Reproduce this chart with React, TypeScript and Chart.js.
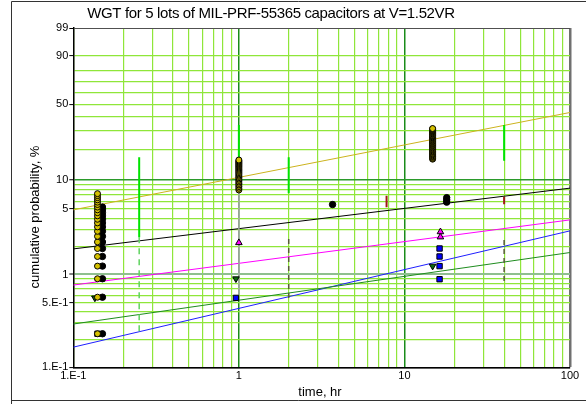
import React, { useEffect, useRef } from 'react';
import { Chart, registerables, LinearScale } from 'chart.js';

// ---------- Weibull probability scale ----------
const W = (p: number) => Math.log(-Math.log(1 - p / 100));

class WeibullScale extends LinearScale {
  static id = 'weibull';
  static defaults = {};
  getPixelForValue(value: number) {
    const a = W(this.min as number);
    const b = W(this.max as number);
    return this.getPixelForDecimal((W(value) - a) / (b - a));
  }
  getValueForPixel(pixel: number) {
    const a = W(this.min as number);
    const b = W(this.max as number);
    const w = a + this.getDecimalForPixel(pixel) * (b - a);
    return 100 * (1 - Math.exp(-Math.exp(w)));
  }
}
Chart.register(...registerables, WeibullScale);

// ---------- text ----------
const TITLE = 'WGT for 5 lots of MIL-PRF-55365 capacitors at V=1.52VR';
const X_TITLE = 'time, hr';
const Y_TITLE = 'cumulative probability, %';

// ---------- ticks ----------
const xTickValues = [0.1, 0.2, 0.3, 0.4, 0.5, 0.6, 0.7, 0.8, 0.9, 1, 2, 3, 4, 5, 6, 7, 8, 9, 10, 20, 30, 40, 50, 60, 70, 80, 90, 100];
const xLabeledValues = [0.1, 1, 10, 100];
const xLabelTexts = ['1.E-1', '1', '10', '100'];

const yTickValues = [0.1, 0.2, 0.3, 0.4, 0.5, 0.6, 0.7, 0.8, 0.9, 1, 2, 3, 4, 5, 6, 7, 8, 9, 10, 20, 30, 40, 50, 60, 70, 80, 90, 99];
const yLabeledValues = [0.1, 0.5, 1, 5, 10, 50, 90, 99];
const yLabelTexts = ['1.E-1', '5.E-1', '1', '5', '10', '50', '90', '99'];

// ---------- data (cumulative %, per time in hr) ----------
const yellowT1 = 0.14;
const yellowAtT1 = [0.23, 0.57, 0.90, 1.23, 1.56, 1.90, 2.23, 2.56, 2.90, 3.23, 3.56, 3.89, 4.23, 4.56, 4.89, 5.23, 5.56, 5.89, 6.23, 6.56, 6.89, 7.22];
const yellowT2 = 1;
const yellowAtT2 = [7.89, 8.22, 8.56, 8.89, 9.22, 9.55, 9.89, 10.22, 10.55, 10.89, 11.22, 11.55, 11.88, 12.22, 12.55, 12.88, 13.22, 13.55, 13.88, 14.21, 14.55, 14.88, 15.21, 15.55, 15.88];
const yellowT3 = 14.8;
const yellowAtT3 = [16.2, 16.5, 16.9, 17.2, 17.5, 17.9, 18.2, 18.5, 18.9, 19.2, 19.5, 19.9, 20.2, 20.5, 20.9, 21.2, 21.5, 21.9, 22.2, 22.5, 22.9, 23.2, 23.5, 23.9, 24.2, 24.5, 24.9, 25.2, 25.5, 25.9, 26.2, 26.5, 26.9, 27.2, 27.5, 27.9, 28.2, 28.5, 28.9, 29.2, 29.5, 29.9, 30.2, 30.5, 30.9, 31.2, 31.5];

const blackT1 = 0.15;
const blackAtT1 = [0.23, 0.57, 0.90, 1.23, 1.56, 1.90, 2.23, 2.56, 2.90, 3.23, 3.56, 3.89, 4.23, 4.56, 4.89, 5.23];
const blackT2 = 3.68;
const blackAtT2 = [5.56];
const blackT3 = 18;
const blackAtT3 = [5.89, 6.23, 6.56];

const magentaTimes = [1.0, 16.5, 16.5];
const magentaPct = [2.19, 2.52, 2.86];

const greenTimes = [0.135, 0.96, 14.8];
const greenPct = [0.56, 0.90, 1.23];

const blueTimes = [0.14, 0.96, 16.3, 16.3, 16.3, 16.3];
const bluePct = [0.23, 0.56, 0.89, 1.23, 1.56, 1.90];

// fitted lines, evaluated at the ends of the time axis
const fitTimes = [0.1, 100];
const fitYellow = [4.89, 43.1];
const fitBlack = [1.88, 8.24];
const fitMagenta = [0.77, 3.83];
const fitGreen = [0.293, 1.72];
const fitBlue = [0.165, 2.93];

// vertical bound markers
const boundGreenX = [0.25, 1, 2, 40];
const boundGreenTop = [16.9, 33.9, 16.9, 33.9];
const boundGreenBottom = [2.5, 12, 7.3, 15.6];
const boundLowX = [0.25, 2, 40];
const boundLowTop = [2.5, 2.4, 2.34];
const boundLowBottom = [0.22, 0.53, 0.84];
const boundGrayX = [1];
const boundGrayTop = [7.9];
const boundGrayBottom = [0.6];
const boundRedX = [7.8, 40];
const boundRedTop = [6.85, 6.72];
const boundRedBottom = [5.2, 5.59];

// ---------- helpers ----------
const at = (t: number, arr: number[]) => arr.map((p) => ({ x: t, y: p }));
const pair = (xs: number[], ys: number[]) => xs.map((x, i) => ({ x, y: ys[i] }));

const FONT = '"Liberation Sans", Arial, Helvetica, sans-serif';
const GRID = '#8fe63a';

function markerSet(data: any[], style: any) {
  return {
    type: 'scatter',
    data,
    showLine: false,
    pointBorderColor: '#000',
    pointBorderWidth: 1,
    pointHoverRadius: 0,
    ...style,
  };
}

function lineSet(xs: number[], ys: number[], color: string, width = 1, dash: number[] = []) {
  return {
    type: 'scatter',
    data: pair(xs, ys),
    showLine: true,
    borderColor: color,
    borderWidth: width,
    borderDash: dash,
    pointRadius: 0,
    pointHoverRadius: 0,
    fill: false,
  };
}

function boundSets(xs: number[], tops: number[], bottoms: number[], color: string, width: number, dash: number[] = []) {
  return xs.map((x, i) => lineSet([x, x], [tops[i], bottoms[i]], color, width, dash));
}

const decorPlugin = {
  id: 'decor',
  afterDraw(chart: any) {
    const ctx = chart.ctx as CanvasRenderingContext2D;
    ctx.save();
    // outer frame
    ctx.strokeStyle = '#333';
    ctx.lineWidth = 1;
    ctx.beginPath();
    ctx.moveTo(11.5, 404);
    ctx.lineTo(11.5, 1.5);
    ctx.lineTo(586, 1.5);
    ctx.moveTo(11.5, 400.5);
    ctx.lineTo(586, 400.5);
    ctx.stroke();
    // title
    ctx.fillStyle = '#000';
    ctx.textAlign = 'center';
    ctx.textBaseline = 'alphabetic';
    ctx.font = `15px ${FONT}`;
    (ctx as any).letterSpacing = '-0.35px';
    ctx.fillText(TITLE, 271, 18);
    (ctx as any).letterSpacing = '0px';
    // axis titles
    ctx.font = `13px ${FONT}`;
    ctx.fillText(X_TITLE, 320, 396);
    ctx.translate(39, 217);
    ctx.rotate(-Math.PI / 2);
    ctx.fillText(Y_TITLE, 0, 0);
    ctx.restore();
  },
};

export default function App() {
  const ref = useRef<HTMLCanvasElement>(null);

  useEffect(() => {
    const datasets: any[] = [
      markerSet(at(yellowT1, yellowAtT1).concat(at(yellowT2, yellowAtT2), at(yellowT3, yellowAtT3)), {
        pointStyle: 'circle', pointRadius: 3, pointBackgroundColor: '#d4c000',
      }),
      markerSet(at(blackT1, blackAtT1).concat(at(blackT2, blackAtT2), at(blackT3, blackAtT3)), {
        pointStyle: 'circle', pointRadius: 3.2, pointBackgroundColor: '#000',
      }),
      markerSet(pair(magentaTimes, magentaPct), {
        pointStyle: 'triangle', pointRadius: 3.8, pointBackgroundColor: '#ff00ff',
      }),
      markerSet(pair(greenTimes, greenPct), {
        pointStyle: 'triangle', pointRotation: 180, pointRadius: 3.8, pointBackgroundColor: '#0b6b0b',
      }),
      markerSet(pair(blueTimes, bluePct), {
        pointStyle: 'rect', pointRadius: 3.8, pointBackgroundColor: '#0000ff',
      }),
      ...boundSets(boundRedX, boundRedTop, boundRedBottom, '#a01818', 2),
      ...boundSets(boundGreenX, boundGreenTop, boundGreenBottom, '#00e400', 2),
      ...boundSets(boundLowX.slice(0, 1), boundLowTop.slice(0, 1), boundLowBottom.slice(0, 1), '#5fd35f', 1.5, [6, 5]),
      ...boundSets(boundLowX.slice(1), boundLowTop.slice(1), boundLowBottom.slice(1), '#5a5a3a', 1.5, [5, 4]),
      ...boundSets(boundGrayX, boundGrayTop, boundGrayBottom, '#a8a8a8', 1.5),
      lineSet(fitTimes, fitYellow, '#ccb31e'),
      lineSet(fitTimes, fitBlack, '#000'),
      lineSet(fitTimes, fitMagenta, '#ff00ff'),
      lineSet(fitTimes, fitGreen, '#1e8c1e'),
      lineSet(fitTimes, fitBlue, '#1f1fff'),
    ];

    const tv = (c: any) => (c && c.tick ? c.tick.value : NaN);

    const chart = new Chart(ref.current as HTMLCanvasElement, {
      type: 'scatter',
      data: { datasets },
      plugins: [decorPlugin],
      options: {
        responsive: false,
        animation: false,
        events: [],
        layout: { padding: { left: 0, right: 16, top: 28, bottom: 0 } },
        plugins: { legend: { display: false }, tooltip: { enabled: false }, title: { display: false } },
        scales: {
          x: {
            type: 'logarithmic',
            min: 0.1,
            max: 100,
            bounds: 'data',
            afterBuildTicks: (s: any) => { s.ticks = xTickValues.map((v) => ({ value: v })); },
            afterFit: (s: any) => { s.height = 36.7; },
            border: { display: true, color: '#000', width: 1.5 },
            grid: {
              drawTicks: false,
              color: (c: any) => { const v = tv(c); return v === 1 || v === 10 ? '#1a8c1a' : v === 100 ? '#707070' : GRID; },
              lineWidth: (c: any) => { const v = tv(c); return v === 1 || v === 10 ? 1.5 : v === 100 ? 2.5 : 1.2; },
            },
            ticks: {
              autoSkip: false,
              maxRotation: 0,
              minRotation: 0,
              padding: 2,
              color: '#000',
              font: { family: FONT, size: 11 },
              callback: (v: any) => { const i = xLabeledValues.indexOf(Number(v)); return i >= 0 ? xLabelTexts[i] : ''; },
            },
          },
          y: {
            type: 'weibull' as any,
            min: 0.1,
            max: 99,
            bounds: 'data',
            afterBuildTicks: (s: any) => { s.ticks = yTickValues.map((v) => ({ value: v })); },
            afterFit: (s: any) => { s.width = 73.3; },
            border: { display: true, color: '#000', width: 1.5 },
            grid: {
              drawTicks: true,
              tickLength: 4,
              tickWidth: 1,
              tickColor: (c: any) => (yLabeledValues.indexOf(tv(c)) >= 0 ? '#000' : 'rgba(0,0,0,0)'),
              color: (c: any) => { const v = tv(c); return v === 10 ? '#2a9a2a' : v === 1 ? '#8fbf8f' : v === 99 ? '#505050' : v === 0.1 ? '#000' : GRID; },
              lineWidth: (c: any) => { const v = tv(c); return v === 10 ? 1.5 : v === 1 ? 2 : v === 99 ? 1 : 1.2; },
            },
            ticks: {
              autoSkip: false,
              padding: 1,
              color: '#000',
              font: { family: FONT, size: 11 },
              callback: (v: any) => { const i = yLabeledValues.indexOf(Number(v)); return i >= 0 ? yLabelTexts[i] : ''; },
            },
          },
        },
      } as any,
    } as any);
    return () => chart.destroy();
  }, []);

  return (
    <div style={{ position: 'fixed', left: 0, top: 0, width: 586, height: 404, background: '#fff' }}>
      <canvas ref={ref} width={586} height={404} style={{ display: 'block' }} />
    </div>
  );
}
